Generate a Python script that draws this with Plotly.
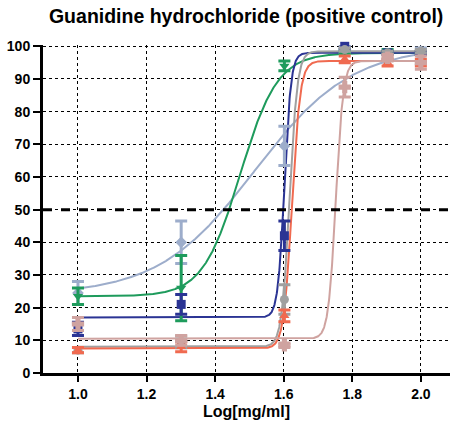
import numpy as np
import plotly.graph_objects as go

# concentrations (log mg/ml)
log_conc = [1.0, 1.301, 1.602, 1.778, 1.903, 2.0]

names = ["S1", "S2", "S3", "S4", "S5", "S6"]
colors = ["#9DADCB", "#1E9B5C", "#2B3494", "#A0A0A0", "#F06A50", "#CFA3A0"]
symbols = ["diamond", "triangle-down", "square", "circle", "triangle-up", "cross"]

mean_s1 = [24.5, 40.0, 69.5, 99.0, 97.0, 98.5]
err_s1 = [3.5, 6.5, 6.0, 1.0, 1.0, 1.0]
mean_s2 = [23.5, 26.0, 94.0, 98.5, 98.5, 98.0]
err_s2 = [2.5, 10.0, 1.5, 0.5, 0.5, 0.5]
mean_s3 = [13.5, 21.0, 42.0, 100.0, 98.0, 98.0]
err_s3 = [2.0, 3.0, 4.5, 0.8, 0.5, 0.5]
mean_s4 = [7.0, 9.5, 22.5, 99.0, 98.0, 98.5]
err_s4 = [0.8, 1.8, 4.5, 0.5, 0.5, 0.5]
mean_s5 = [7.0, 8.0, 17.5, 96.0, 95.0, 95.0]
err_s5 = [0.8, 1.5, 1.8, 1.0, 1.0, 1.0]
mean_s6 = [15.0, 10.0, 8.5, 87.5, 96.5, 95.0]
err_s6 = [2.0, 1.5, 0.7, 3.0, 1.0, 2.0]

means = [mean_s1, mean_s2, mean_s3, mean_s4, mean_s5, mean_s6]
errs = [err_s1, err_s2, err_s3, err_s4, err_s5, err_s6]

# fitted 4-parameter logistic curves
fit_bottom = [24.0, 23.5, 17.0, 8.0, 7.5, 10.5]
fit_top = [100.0, 98.0, 98.0, 98.5, 95.5, 95.5]
fit_logec50 = [1.516, 1.473, 1.602, 1.617, 1.624, 1.752]
fit_hill = [3.1, 8.0, 45.0, 38.0, 36.0, 40.0]

threshold = 50

fig = go.Figure()

xs = np.linspace(1.0, 2.0, 1200)
for i in range(6):
    ys = fit_bottom[i] + (fit_top[i] - fit_bottom[i]) / (1 + 10 ** ((fit_logec50[i] - xs) * fit_hill[i]))
    fig.add_trace(go.Scatter(x=xs, y=ys, mode="lines", line=dict(color=colors[i], width=2),
                             showlegend=False, hoverinfo="skip", cliponaxis=False))

for i in range(6):
    fig.add_trace(go.Scatter(
        x=log_conc, y=means[i], mode="markers", name=names[i],
        marker=dict(color=colors[i], symbol=symbols[i], size=9,
                    line=dict(color=colors[i], width=1.5 if symbols[i] == "cross" else 0)),
        error_y=dict(type="data", array=errs[i], color=colors[i], thickness=3, width=6),
        showlegend=False, cliponaxis=False))

fig.add_shape(type="line", xref="paper", x0=0, x1=1, yref="y", y0=threshold, y1=threshold,
              line=dict(color="black", width=3, dash="dash"))

axis_font = dict(family="Liberation Sans, Arial", size=14, color="black", weight="bold")

fig.update_layout(
    width=450, height=426,
    margin=dict(l=43, r=0, t=45, b=53),
    paper_bgcolor="white", plot_bgcolor="white",
    title=dict(text="Guanidine hydrochloride (positive control)", x=0.547, xanchor="center",
               y=0.963, yanchor="middle",
               font=dict(family="Liberation Sans, Arial", size=19.5, color="black", weight="bold")),
    xaxis=dict(range=[0.898, 2.085], tickvals=[1.0, 1.2, 1.4, 1.6, 1.8, 2.0],
               ticktext=["1.0", "1.2", "1.4", "1.6", "1.8", "2.0"],
               showgrid=True, gridcolor="black", gridwidth=1, griddash="dot",
               showline=True, linecolor="black", linewidth=3,
               ticks="outside", ticklen=6, tickwidth=2, tickcolor="black",
               tickfont=axis_font, zeroline=False,
               title=dict(text="Log[mg/ml]", standoff=6,
                          font=dict(family="Liberation Sans, Arial", size=16, color="black", weight="bold"))),
    yaxis=dict(range=[0, 100.4], tickvals=list(range(0, 101, 10)),
               showgrid=True, gridcolor="black", gridwidth=1, griddash="dot",
               showline=True, linecolor="black", linewidth=3,
               ticks="outside", ticklen=7, tickwidth=2, tickcolor="black",
               tickfont=axis_font, zeroline=False),
)

fig.write_html("out.html")
